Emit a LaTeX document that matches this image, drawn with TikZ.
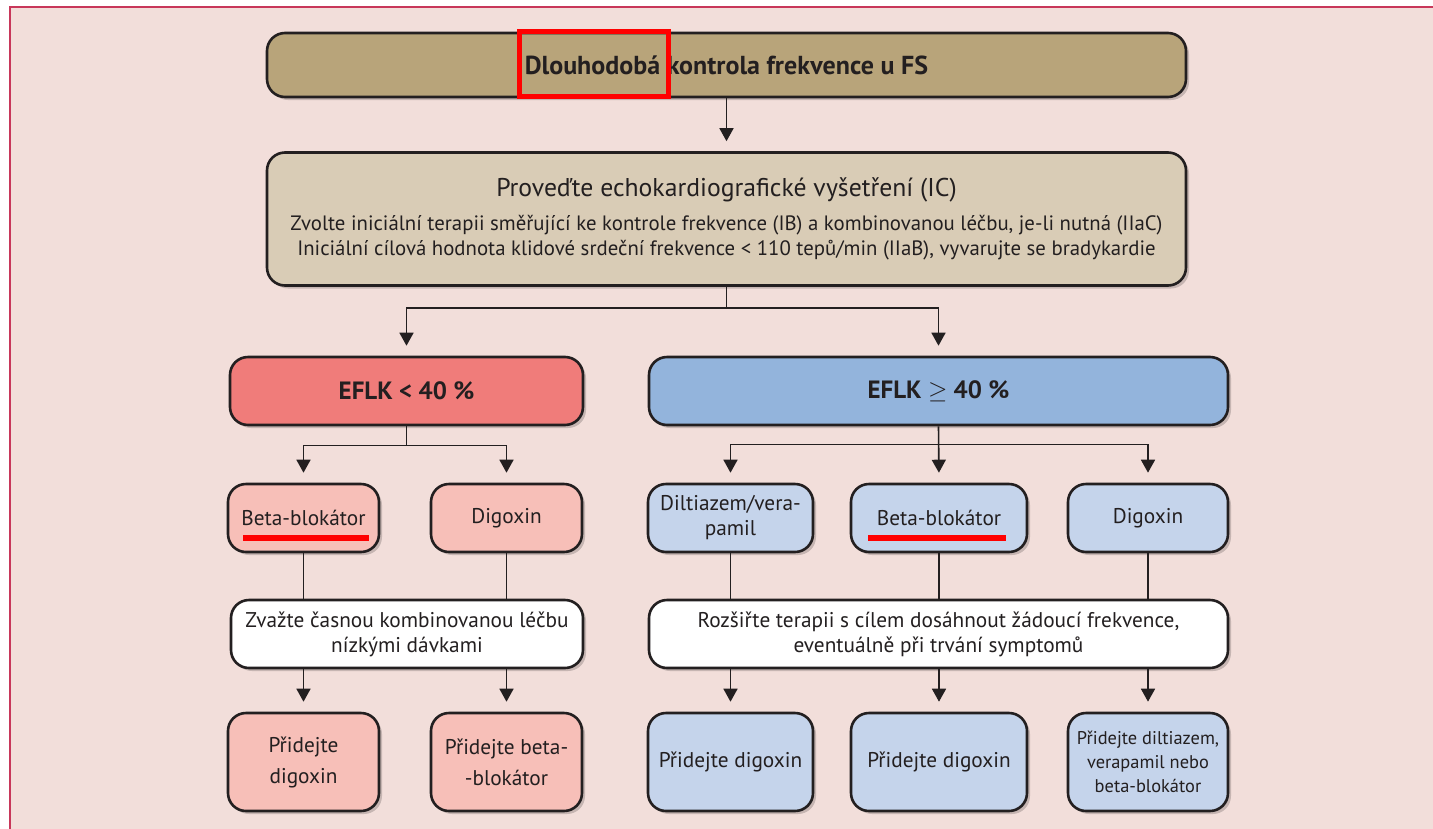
\documentclass[tikz,border=0pt]{standalone}
\usepackage{fontspec}
\setmainfont{PT Sans}
\usetikzlibrary{arrows.meta,shadows}
\definecolor{bgpink}{HTML}{F2DEDA}
\definecolor{frame}{HTML}{C8375A}
\definecolor{tan}{HTML}{B8A47A}
\definecolor{beige}{HTML}{D9CCB6}
\definecolor{redbox}{HTML}{F07C7A}
\definecolor{redlight}{HTML}{F7BFB8}
\definecolor{bluebox}{HTML}{93B4DC}
\definecolor{bluelight}{HTML}{C5D4EB}
\definecolor{ink}{HTML}{231F20}
\tikzset{
  box/.style={draw=ink, line width=2.6pt, rounded corners=18pt, align=center,
    text=ink, inner sep=2pt,
    drop shadow={shadow xshift=3pt, shadow yshift=-3pt, opacity=0.18, fill=black}},
  small/.style={box, minimum height=68pt, font=\fontsize{21.3}{25}\selectfont},
  tall/.style={box, minimum height=98pt, font=\fontsize{21.3}{31}\selectfont},
  conn/.style={draw=ink, line width=1.6pt},
  arr/.style={conn, -{Triangle[width=14pt,length=13pt]}, shorten >=10pt},
}
\begin{document}
\begin{tikzpicture}[x=1pt,y=-1pt]
\useasboundingbox (0,0) rectangle (1433,828);
\clip (0,0) rectangle (1433,828);
\fill[white] (0,0) rectangle (1433,828);
\filldraw[fill=bgpink, draw=frame, line width=1.5pt] (10,7) rectangle (1450,850);

% nodes
\node[box, fill=tan, minimum width=919pt, minimum height=64pt,
  font=\fontsize{26}{30}\selectfont\bfseries] (title) at (726.5,65) {Dlouhodobá kontrola frekvence u FS};
\node[box, fill=beige, minimum width=919pt, minimum height=133pt,
  font=\fontsize{20.8}{25}\selectfont] (echo) at (726.5,219)
  {{\fontsize{25.7}{30}\selectfont Proveďte echokardiografické vyšetření (IC)}\\[9pt]
   Zvolte iniciální terapii směřující ke kontrole frekvence (IB) a kombinovanou léčbu, je-li nutná (IIaC)\\
   Iniciální cílová hodnota klidové srdeční frekvence < 110 tepů/min (IIaB), vyvarujte se bradykardie};

\node[box, fill=redbox, minimum width=353pt, minimum height=68pt,
  font=\fontsize{25}{28}\selectfont\bfseries] (red) at (406.5,391) {EFLK < 40 \%};
\node[box, fill=bluebox, minimum width=579pt, minimum height=68pt,
  font=\fontsize{25}{28}\selectfont\bfseries] (blue) at (938.5,391) {EFLK $\geq$ 40 \%};

\node[small, fill=redlight, minimum width=151pt] (rb) at (303.5,518) {Beta-blokátor};
\node[small, fill=redlight, minimum width=151pt] (rd) at (506.5,518) {Digoxin};
\node[small, fill=bluelight, minimum width=165pt] (bd) at (730.5,518) {Diltiazem/vera-\\pamil};
\node[small, fill=bluelight, minimum width=176pt] (bb) at (939,518) {Beta-blokátor};
\node[small, fill=bluelight, minimum width=160pt] (bg) at (1148,518) {Digoxin};

\node[small, fill=white, minimum width=352pt] (wl) at (407,634) {Zvažte časnou kombinovanou léčbu\\nízkými dávkami};
\node[small, fill=white, minimum width=579pt] (wr) at (938.5,634) {Rozšiřte terapii s cílem dosáhnout žádoucí frekvence,\\eventuálně při trvání symptomů};

\node[tall, fill=redlight, minimum width=151pt] (p1) at (303.5,762) {Přidejte\\digoxin};
\node[tall, fill=redlight, minimum width=151pt] (p2) at (506.5,762) {Přidejte beta-\\-blokátor};
\node[tall, fill=bluelight, minimum width=165pt] (p3) at (730.5,762) {Přidejte digoxin};
\node[tall, fill=bluelight, minimum width=176pt] (p4) at (939,762) {Přidejte digoxin};
\node[tall, fill=bluelight, minimum width=160pt, font=\fontsize{18.4}{24}\selectfont] (p5) at (1148,762) {Přidejte diltiazem,\\verapamil nebo\\beta-blokátor};

% connectors
\draw[arr] (title.south) -- (echo.north);
\draw[conn] (echo.south) -- ++(0,21) coordinate (j1);
\draw[arr] (j1) -| (red.north);
\draw[arr] (j1) -| (blue.north);
\draw[conn] (red.south) -- ++(0,19) coordinate (j2);
\draw[arr] (j2) -| (rb.north);
\draw[arr] (j2) -| (rd.north);
\draw[arr] (blue.south) -- (bb.north);
\draw[conn] (blue.south) ++(0,18) coordinate (j3);
\draw[arr] (j3) -| (bd.north);
\draw[arr] (j3) -| (bg.north);

\draw[conn] (rb.south) -- (rb.south |- wl.north);
\draw[conn] (rd.south) -- (rd.south |- wl.north);
\draw[conn] (bd.south) -- (bd.south |- wr.north);
\draw[conn] (bb.south) -- (bb.south |- wr.north);
\draw[conn] (bg.south) -- (bg.south |- wr.north);

\draw[arr] (wl.south -| p1.north) -- (p1.north);
\draw[arr] (wl.south -| p2.north) -- (p2.north);
\draw[arr] (wr.south -| p3.north) -- (p3.north);
\draw[arr] (wr.south -| p4.north) -- (p4.north);
\draw[arr] (wr.south -| p5.north) -- (p5.north);

% red annotations
\node[draw=red, line width=5pt, minimum width=149pt, minimum height=65pt, inner sep=0pt] (hl) at (594,64) {};
\draw[red, line width=6pt] (243,537.5) -- (369,537.5);
\draw[red, line width=6pt] (868,537.5) -- (1006,537.5);
\end{tikzpicture}
\end{document}
